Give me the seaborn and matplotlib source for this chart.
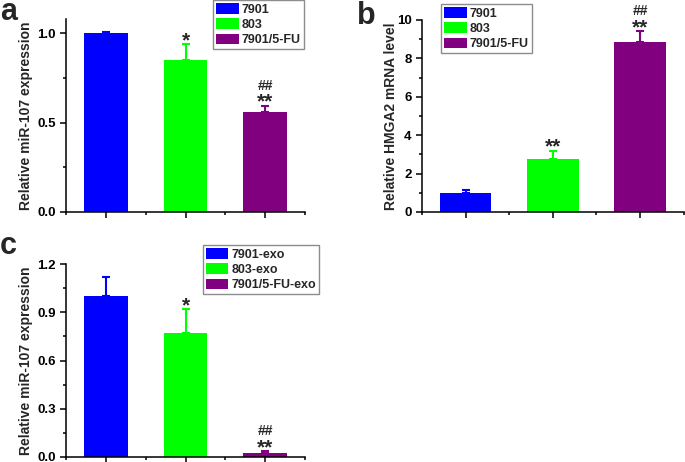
import numpy as np
import pandas as pd
import matplotlib
matplotlib.use('Agg')
import matplotlib.pyplot as plt
import seaborn as sns
from matplotlib.ticker import MultipleLocator, FixedLocator

# Data
groups_ab = ['7901', '803', '7901/5-FU']
groups_c = ['7901-exo', '803-exo', '7901/5-FU-exo']
colors = ['#0000FF', '#00FF00', '#800080']

mir_cell = [1.00, 0.85, 0.56]
mir_cell_err = [0.01, 0.09, 0.035]
mir_cell_sig = ['', '*', '**']
mir_cell_hash = ['', '', '##']

hmga2 = [1.00, 2.76, 8.87]
hmga2_err = [0.17, 0.43, 0.56]
hmga2_sig = ['', '**', '**']
hmga2_hash = ['', '', '##']

mir_exo = [1.00, 0.77, 0.02]
mir_exo_err = [0.12, 0.15, 0.014]
mir_exo_sig = ['', '*', '**']
mir_exo_hash = ['', '', '##']

sns.set_style('ticks')
plt.rcParams['font.family'] = ['Liberation Sans', 'DejaVu Sans']
plt.rcParams['font.weight'] = 'bold'
plt.rcParams['axes.labelweight'] = 'bold'
plt.rcParams['axes.linewidth'] = 1.1
plt.rcParams['xtick.major.width'] = 1.1
plt.rcParams['ytick.major.width'] = 1.1
plt.rcParams['xtick.minor.width'] = 1.1
plt.rcParams['ytick.minor.width'] = 1.1
plt.rcParams['xtick.color'] = 'black'
plt.rcParams['ytick.color'] = 'black'
plt.rcParams['axes.edgecolor'] = 'black'

W, H = 685, 462
fig = plt.figure(figsize=(W / 100, H / 100), dpi=100)


def px_axes(left, right, bottom, top):
    return fig.add_axes([left / W, (H - bottom) / H, (right - left) / W, (bottom - top) / H])


def panel(ax, groups, vals, errs, sig, hashes, ylim, major, minor, ylabel,
          width, leg_box, tick_fmt):
    df = pd.DataFrame({'group': groups, 'value': vals})
    sns.barplot(data=df, x='group', y='value', hue='group', palette=colors,
                width=width, dodge=False, saturation=1, ax=ax, legend=True,
                edgecolor='none')
    for i, (v, e, c) in enumerate(zip(vals, errs, colors)):
        ax.errorbar(i, v, yerr=[[0], [e]], fmt='none', ecolor=c,
                    elinewidth=1.5, capsize=3, capthick=1.5)
        top = v + e
        if sig[i]:
            ax.annotate(sig[i], (i, top), xytext=(0, -1.5), textcoords='offset points',
                        ha='center', va='baseline', fontsize=15, fontweight='bold')
        if hashes[i]:
            ax.annotate(hashes[i], (i, top), xytext=(0, 11.5), textcoords='offset points',
                        ha='center', va='baseline', fontsize=10, fontweight='bold')
    ax.set_xlim(-0.5, 2.5)
    ax.set_ylim(*ylim)
    ax.yaxis.set_major_locator(MultipleLocator(major))
    ax.yaxis.set_minor_locator(MultipleLocator(minor))
    ax.xaxis.set_minor_locator(FixedLocator([-0.5, 0.5, 1.5, 2.5]))
    ax.set_xticks([0, 1, 2])
    ax.set_xticklabels([])
    ax.yaxis.set_major_formatter(tick_fmt)
    ax.tick_params(axis='both', which='major', length=4, labelsize=9.5)
    ax.tick_params(axis='both', which='minor', length=2.5)
    for lbl in ax.get_yticklabels():
        lbl.set_fontweight('bold')
    ax.set_xlabel('')
    ax.set_ylabel(ylabel, fontsize=10, fontweight='bold')
    sns.despine(ax=ax)
    ax.legend(loc='upper right', bbox_to_anchor=(leg_box[0] / W, 1 - leg_box[1] / H),
              bbox_transform=fig.transFigure, frameon=True, fancybox=False,
              edgecolor='#8c8c8c', framealpha=1, handlelength=1.8, handleheight=0.9,
              handletextpad=0.25, labelspacing=0.22, borderpad=0.25, borderaxespad=0,
              prop={'weight': 'bold', 'size': 9})


ax_a = px_axes(66.3, 304.8, 212, 19)
panel(ax_a, groups_ab, mir_cell, mir_cell_err, mir_cell_sig, mir_cell_hash,
      (0, 1.08), 0.5, 0.25, 'Relative miR-107 expression', 0.55, (304, 0), '{x:.1f}')
ax_a.yaxis.set_label_coords(-0.14, 0.5)

ax_b = px_axes(422.1, 683.6, 212, 20)
panel(ax_b, groups_ab, hmga2, hmga2_err, hmga2_sig, hmga2_hash,
      (0, 10), 2, 1, 'Relative HMGA2 mRNA level', 0.59, (532, 4), '{x:.0f}')
ax_b.yaxis.set_label_coords(-0.092, 0.5)

ax_c = px_axes(66.3, 304.8, 456.7, 264.3)
panel(ax_c, groups_c, mir_exo, mir_exo_err, mir_exo_sig, mir_exo_hash,
      (0, 1.2), 0.3, 0.15, 'Relative miR-107 expression', 0.55, (319, 245), '{x:.1f}')
ax_c.yaxis.set_label_coords(-0.14, 0.5)

fig.text(0 / W, 1 - 20 / H, 'a', fontsize=22, fontweight='bold', va='baseline')
fig.text(357 / W, 1 - 24 / H, 'b', fontsize=22, fontweight='bold', va='baseline')
fig.text(0 / W, 1 - 254 / H, 'c', fontsize=22, fontweight='bold', va='baseline')

fig.savefig('out.png', dpi=100)
